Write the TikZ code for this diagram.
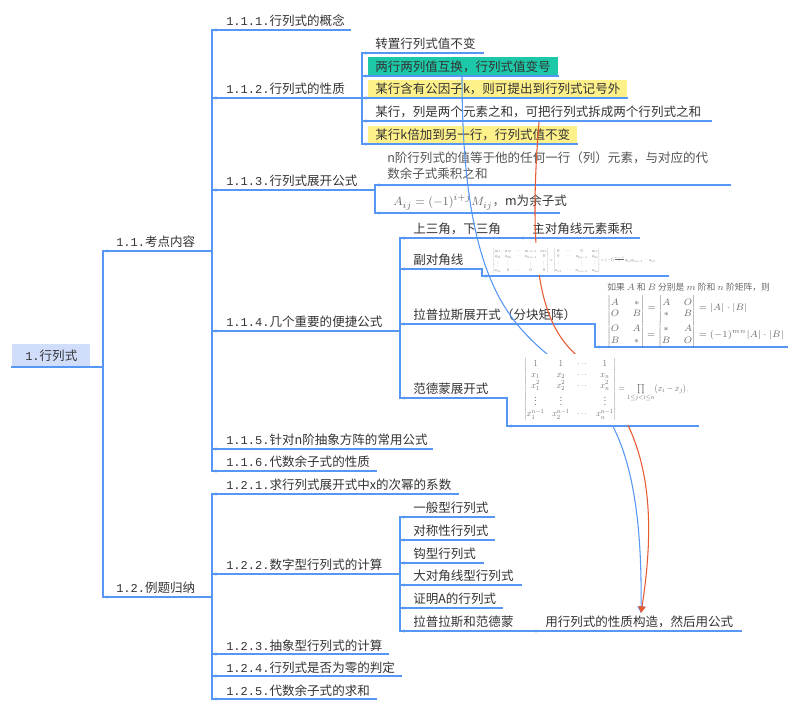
\documentclass[tikz,border=0pt]{standalone}
\usepackage{amsmath}
\usepackage{graphicx}
\usepackage{fontspec}
\setmainfont{Noto Sans CJK SC}
\newfontfamily\numf[Scale=0.96]{Liberation Mono}
\usetikzlibrary{arrows.meta}
\definecolor{lb}{RGB}{86,151,245}
\definecolor{tx}{RGB}{51,51,51}
\definecolor{tx2}{RGB}{85,85,85}
\definecolor{rootf}{RGB}{208,222,252}
\definecolor{teal1}{RGB}{29,200,168}
\definecolor{yel}{RGB}{255,241,138}
\definecolor{redl}{RGB}{230,90,50}
\definecolor{fg}{RGB}{105,105,105}
\newcommand\fs{\fontsize{9.4}{11}\selectfont}
\tikzset{
  ln/.style={draw=lb, line width=1pt, line cap=rect},
  lbl/.style={anchor=base west, inner sep=0pt, text=tx, font=\fs},
  rel/.style={line width=0.8pt},
  img/.style={anchor=north west, inner sep=0pt, text=fg},
}
% branch: name, junction x, y, end x, text x, text
\newcommand\br[6]{%
  \draw[ln] (#2,#3) coordinate (#1-s) -- (#4,#3) coordinate (#1-e);
  \fill[lb] (#2+4,#3) circle (1.2pt);
  \node[lbl] (#1) at (#5,#3-4) {#6};
}
\begin{document}
\begin{tikzpicture}[x=0.75pt,y=-0.75pt]
\useasboundingbox (0,0) rectangle (800,712);
% highlighted backgrounds
\fill[rootf] (12,344) rectangle (90,367);
\fill[teal1] (368,57) rectangle (558,76);
\fill[yel] (368,80) rectangle (627,98);
\fill[yel] (368,126) rectangle (577,144);
% root
\node[lbl] (root) at (25,361) {{\numf 1.}行列式};
\draw[ln] (12,367) coordinate (root-s) -- (103,367) coordinate (root-e);
% level 2
\br{b11}{103}{251}{212}{116}{{\numf 1.1.}考点内容}
\br{b12}{103}{597}{212}{116}{{\numf 1.2.}例题归纳}
\draw[ln] (b11-s) -- (b12-s);
% level 3 under 1.1
\br{b111}{212}{30}{350}{226}{{\numf 1.1.1.}行列式的概念}
\br{b112}{212}{98}{362}{226}{{\numf 1.1.2.}行列式的性质}
\br{b113}{212}{190}{375}{226}{{\numf 1.1.3.}行列式展开公式}
\br{b114}{212}{331}{400}{226}{{\numf 1.1.4.}几个重要的便捷公式}
\br{b115}{212}{449}{432}{226}{{\numf 1.1.5.}针对n阶抽象方阵的常用公式}
\br{b116}{212}{471}{376}{226}{{\numf 1.1.6.}代数余子式的性质}
\draw[ln] (b111-s) -- (b116-s);
% level 3 under 1.2
\br{b121}{212}{494}{458}{226}{{\numf 1.2.1.}求行列式展开式中x的次幂的系数}
\br{b122}{212}{574}{400}{226}{{\numf 1.2.2.}数字型行列式的计算}
\br{b123}{212}{654}{388}{226}{{\numf 1.2.3.}抽象型行列式的计算}
\br{b124}{212}{676}{401}{226}{{\numf 1.2.4.}行列式是否为零的判定}
\br{b125}{212}{699}{376}{226}{{\numf 1.2.5.}代数余子式的求和}
\draw[ln] (b121-s) -- (b125-s);
% under 1.1.2
\br{p1}{362}{53}{483}{375}{转置行列式值不变}
\br{p2}{362}{76}{558}{375}{两行两列值互换，行列式值变号}
\br{p3}{362}{98}{627}{375}{某行含有公因子k，则可提出到行列式记号外}
\br{p4}{362}{121}{711}{375}{某行，列是两个元素之和，可把行列式拆成两个行列式之和}
\br{p5}{362}{144}{577}{375}{某行k倍加到另一行，行列式值不变}
\draw[ln] (p1-s) -- (p5-s);
% under 1.1.3
\draw[ln] (375,185) coordinate (e1-s) -- (730,185) coordinate (e1-e);
\fill[lb] (379,185) circle (1.2pt);
\node[lbl, text=tx2] (e1) at (387,163) {n阶行列式的值等于他的任何一行（列）元素，与对应的代};
\node[lbl, text=tx2] (e1b) at (387,179) {数余子式乘积之和};
\draw[ln] (375,213) coordinate (e2-s) -- (559,213) coordinate (e2-e);
\fill[lb] (379,213) circle (1.2pt);
\node[lbl] (e2) at (393,206) {\textcolor{fg}{$A_{ij}=(-1)^{i+j}M_{ij}$，}m为余子式};
\draw[ln] (e1-s) -- (e2-s);
% under 1.1.4
\br{c1}{400}{238}{519}{413}{上三角，下三角}
\br{c1a}{519}{238}{639}{532}{主对角线元素乘积}
\br{c2}{400}{269}{482}{413}{副对角线}
\br{c3}{400}{324}{595}{413}{拉普拉斯展开式（分块矩阵）}
\br{c4}{400}{398}{507}{413}{范德蒙展开式}
\draw[ln] (c1-s) -- (c4-s);
\coordinate (c2i-e) at (668,276);
\coordinate (c3i-e) at (787,347);
\coordinate (c4i-e) at (698,426);
\draw[ln] (c2-e) |- (c2i-e);
\draw[ln] (c3-e) |- (c3i-e);
\draw[ln] (c4-e) |- (c4i-e);
\fill[lb] (486,276) circle (1.2pt);
\fill[lb] (599,347) circle (1.2pt);
\fill[lb] (511,426) circle (1.2pt);
% under 1.2.2
\br{d1}{400}{517}{494}{413}{一般型行列式}
\br{d2}{400}{540}{494}{413}{对称性行列式}
\br{d3}{400}{563}{483}{413}{钩型行列式}
\br{d4}{400}{585}{521}{413}{大对角线型行列式}
\br{d5}{400}{608}{502}{413}{证明A的行列式}
\br{d6}{400}{631}{532}{413}{拉普拉斯和范德蒙}
\draw[ln] (d1-s) -- (d6-s);
\br{d6a}{532}{631}{741}{545}{用行列式的性质构造，然后用公式}
% relationships
\coordinate (rb-s) at (462,76);
\coordinate (rr-s) at (539,122);
\coordinate (rel-e) at (641,613);
\draw[rel, lb, -{Triangle[length=5pt,width=5.5pt]}] (rb-s) .. controls (462,480) and (645,250) .. (rel-e);
\draw[rel, redl, -{Triangle[length=5pt,width=5.5pt]}] (rr-s) .. controls (527,270) and (543,322) .. (573,352) .. controls (625,404) and (665,460) .. (rel-e);
% formula images
\fill[white] (490,243) rectangle (672,275);
\node[img] (im1) at (493,248) {\resizebox*{121.5pt}{18.75pt}{$\begin{vmatrix} a_{11}&a_{12}&\cdots&a_{1,n-1}&a_{1n}\\ a_{21}&a_{22}&\cdots&a_{2,n-1}&0\\ \vdots&\vdots&&\vdots&\vdots\\ a_{n1}&0&\cdots&0&0\end{vmatrix}=\begin{vmatrix}0&\cdots&0&a_{1n}\\ 0&\cdots&a_{2,n-1}&a_{2n}\\ \vdots&&\vdots&\vdots\\ a_{n1}&\cdots&a_{n,n-1}&a_{nn}\end{vmatrix}=(-1)^{\frac{n(n-1)}{2}}a_{1n}a_{2,n-1}\cdots a_{n1}$}};
\fill[white] (604,279) rectangle (790,345.5);
\node[img, font=\fontsize{6.6}{8}\selectfont] (im2) at (607,282) {\renewcommand{\arraystretch}{1.1}\begin{tabular}{@{}l@{}}如果 $A$ 和 $B$ 分别是 $m$ 阶和 $n$ 阶矩阵，则\\[1pt]
$\begin{vmatrix}A&*\\ O&B\end{vmatrix}=\begin{vmatrix}A&O\\ *&B\end{vmatrix}=|A|\cdot|B|$\\[3pt]
$\begin{vmatrix}O&A\\ B&*\end{vmatrix}=\begin{vmatrix}*&A\\ B&O\end{vmatrix}=(-1)^{mn}|A|\cdot|B|$\end{tabular}};
\fill[white] (514,354) rectangle (700,425);
\node[img] (im3) at (524,358) {\resizebox*{123pt}{46.5pt}{$\begin{vmatrix}1&1&\cdots&1\\ x_1&x_2&\cdots&x_n\\ x_1^2&x_2^2&\cdots&x_n^2\\ \vdots&\vdots&&\vdots\\ x_1^{n-1}&x_2^{n-1}&\cdots&x_n^{n-1}\end{vmatrix}=\prod\limits_{1\le j<i\le n}(x_i-x_j).$}};
\end{tikzpicture}
\end{document}
